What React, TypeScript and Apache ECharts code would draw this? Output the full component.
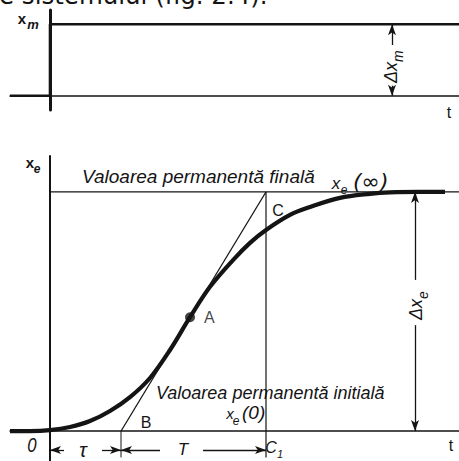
import React, { useEffect, useRef } from "react";
import * as echarts from "echarts";

// Time axis in drawing divisions; t = 0 is the instant the step is applied.
const T_MIN = -4;
const T_MAX = 40.9;

// Step input x_m(t), upper diagram, as a fraction of Δx_m.
const stepT = [-4, 0, 0, 40.9];
const stepX = [0, 0, 1, 1];

// Response x_e(t), lower diagram, as a fraction of Δx_e.
const respT = [-4, -2, 0, 2, 4, 6, 8, 10, 12, 14, 16, 18.3, 20, 21.6, 24, 26, 29, 32, 34, 37, 39.5];
const respX = [0, 0, 0.004, 0.017, 0.042, 0.084, 0.142, 0.222, 0.339, 0.476, 0.603, 0.715, 0.787, 0.841, 0.904, 0.937, 0.975, 0.992, 0.998, 1, 1];

// Tangent construction: inflection point A, foot B (t = τ) and C (t = C1 = τ + T).
const pointA = [14.0, 0.476];
const tB = 7.1;
const tC = 21.6;

// Final and initial steady-state levels.
const finalLevel = 1;
const initialLevel = 0;

const INK = "#141414";
const SANS = "'Liberation Sans', Arial, sans-serif";
const DEJAVU = "'DejaVu Sans', Verdana, sans-serif";

const pairs = (xs: number[], ys: number[]) => xs.map((x, i) => [x, ys[i]]);

function axisX(gridIndex: number) {
  return {
    type: "value",
    gridIndex,
    min: T_MIN,
    max: T_MAX,
    axisLine: { show: true, onZero: true, lineStyle: { color: INK, width: 1.5 } },
    axisTick: { show: false },
    axisLabel: { show: false },
    splitLine: { show: false },
  };
}

function axisY(gridIndex: number, min: number, max: number, width: number) {
  return {
    type: "value",
    gridIndex,
    min,
    max,
    axisLine: { show: true, onZero: true, lineStyle: { color: INK, width } },
    axisTick: { show: false },
    axisLabel: { show: false },
    splitLine: { show: false },
  };
}

function seg(data: number[][], width: number, grid: number, extra: any = {}) {
  return {
    type: "line",
    xAxisIndex: grid,
    yAxisIndex: grid,
    data,
    symbol: "none",
    silent: true,
    lineStyle: { color: INK, width },
    ...extra,
  };
}

// Arrowed dimension lines; the arrow head sits on the second point.
function arrows(list: number[][][]) {
  return {
    silent: true,
    symbol: ["none", "arrow"],
    symbolSize: [6, 11],
    label: { show: false },
    emphasis: { disabled: true },
    lineStyle: { color: INK, width: 1.3, type: "solid" },
    data: list.map(([a, b]) => [{ coord: a }, { coord: b }]),
  };
}

function txt(text: string, x: number, y: number, size: number, opts: any = {}) {
  const { family = SANS, italic = false, bold = false, align = "center", ...rest } = opts;
  return {
    type: "text",
    x,
    y,
    silent: true,
    ...rest,
    style: {
      text,
      fill: INK,
      fontSize: size,
      fontFamily: family,
      fontStyle: italic ? "italic" : "normal",
      fontWeight: bold ? "bold" : "normal",
      align,
      verticalAlign: "middle",
    },
  };
}

function buildOption() {
  const dimY = -0.079;
  const dxm = 34.2;
  const dxe = 36.5;
  return {
    animation: false,
    backgroundColor: "#ffffff",
    grid: [
      { left: 10, top: 10, width: 449, height: 100, containLabel: false, outerBoundsMode: "none" },
      { left: 10, top: 156, width: 449, height: 305, containLabel: false, outerBoundsMode: "none" },
    ],
    xAxis: [axisX(0), axisX(1)],
    yAxis: [axisY(0, -0.2, 1.2, 3), axisY(1, -0.125, 1.15, 2)],
    series: [
      // upper diagram: the step input
      seg(pairs(stepT, stepX), 2.6, 0, {
        markLine: arrows([
          [[dxm, 0.71], [dxm, 1]],
          [[dxm, 0.14], [dxm, 0]],
        ]),
      }),
      // lower diagram: final level, tangent and the verticals at B and C
      seg([[0, finalLevel], [T_MAX, finalLevel]], 1.2, 1, {
        markLine: arrows([
          [[dxe, 0.632], [dxe, finalLevel]],
          [[dxe, 0.443], [dxe, initialLevel]],
          [[1.4, dimY], [0, dimY]],
          [[5.2, dimY], [tB, dimY]],
          [[11.0, dimY], [tB, dimY]],
          [[15.3, dimY], [tC, dimY]],
        ]),
      }),
      seg([[tB, initialLevel], [tC, finalLevel]], 1.1, 1),
      seg([[tC, -0.11], [tC, finalLevel]], 1.2, 1),
      seg([[tB, -0.11], [tB, initialLevel]], 1.0, 1),
      // the response curve
      seg(pairs(respT, respX), 4.2, 1, { smooth: 0.35, z: 3 }),
      {
        type: "scatter",
        xAxisIndex: 1,
        yAxisIndex: 1,
        data: [pointA],
        symbolSize: 10,
        silent: true,
        z: 4,
        itemStyle: { color: INK },
        label: {
          show: true,
          formatter: "A",
          position: "right",
          distance: 9,
          color: INK,
          fontSize: 16,
          fontFamily: SANS,
        },
      },
    ],
    graphic: [
      txt("e sistemului (fig. 2.4).", -1, -5, 24.5, { family: DEJAVU, align: "left" }),
      // upper diagram labels
      txt("x", 22, 18, 15, { bold: true }),
      txt("m", 33, 24, 13, { italic: true, bold: true }),
      txt("t", 449, 112, 16),
      {
        type: "group",
        x: 391,
        y: 66,
        rotation: Math.PI / 2,
        children: [
          txt("Δx", 4, 0, 18, { italic: true, align: "right" }),
          txt("m", 4, 7, 14, { italic: true, align: "left" }),
        ],
      },
      // lower diagram labels
      txt("x", 30, 162, 15, { bold: true }),
      txt("e", 37, 169, 12, { italic: true, bold: true }),
      txt("Valoarea permanentă finală", 82, 176, 19, { italic: true, align: "left" }),
      txt("x", 336, 183, 17, { italic: true }),
      txt("e", 344, 190, 12, { italic: true }),
      txt("(∞)", 353, 181, 22, { italic: true, family: DEJAVU, align: "left" }),
      txt("C", 278, 210, 16),
      txt("B", 146, 422, 16),
      txt("Valoarea permanentă initială", 156, 393, 18, { italic: true, align: "left" }),
      txt("x", 230, 413, 15, { italic: true }),
      txt("e", 236, 421, 12, { italic: true }),
      txt("(0)", 242, 412, 19, { italic: true, align: "left" }),
      txt("0", 32, 445, 21, { italic: true, scaleX: 0.8 }),
      txt("τ", 83, 450, 20, { italic: true }),
      txt("T", 183, 449, 17, { italic: true }),
      txt("C", 271, 447, 16, { italic: true }),
      txt("1", 280, 454, 11, { italic: true }),
      txt("t", 451, 445, 16),
      {
        type: "group",
        x: 416,
        y: 303,
        rotation: Math.PI / 2,
        children: [
          txt("Δx", 4, 0, 18, { italic: true, align: "right" }),
          txt("e", 4, 7, 14, { italic: true, align: "left" }),
        ],
      },
    ],
  };
}

export default function App() {
  const ref = useRef<HTMLDivElement>(null);
  useEffect(() => {
    if (!ref.current) return;
    const chart = echarts.init(ref.current, null, { renderer: "svg" });
    chart.setOption(buildOption() as any);
    return () => chart.dispose();
  }, []);
  return (
    <div
      ref={ref}
      style={{ position: "fixed", left: 0, top: 0, width: 459, height: 461, background: "#fff" }}
    />
  );
}
